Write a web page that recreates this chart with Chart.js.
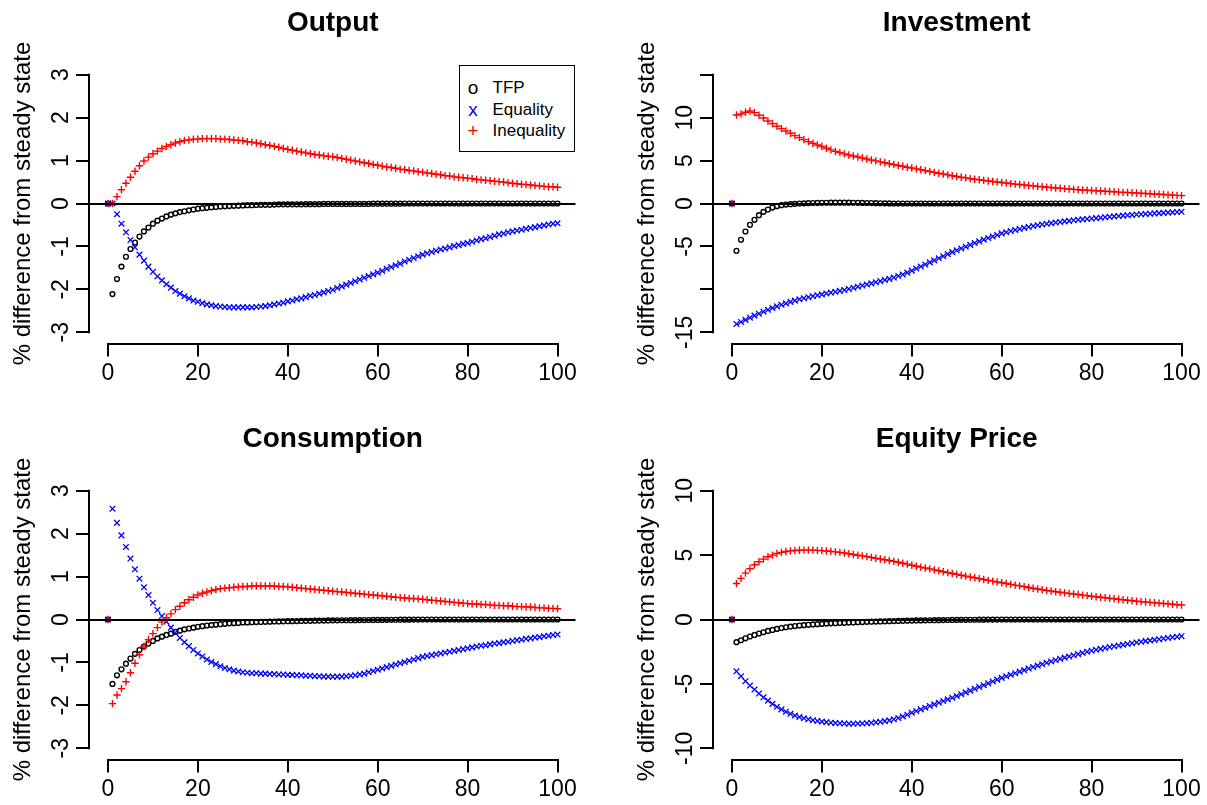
<!DOCTYPE html>
<html>
<head>
<meta charset="utf-8">
<title>Impulse responses</title>
<script src="https://cdn.jsdelivr.net/npm/chart.js@4.4.1/dist/chart.umd.min.js"></script>
<style>
  body { margin: 0; background: #fff; width: 1207px; height: 805px; overflow: hidden; position: relative;
         font-family: "Liberation Sans", Arial, sans-serif; }
  canvas { position: absolute; }
  #c-output { left: 0; top: 0; }
  #c-investment { left: 624px; top: 0; }
  #c-consumption { left: 0; top: 416px; }
  #c-equity { left: 624px; top: 416px; }
  #legend { position: absolute; left: 459px; top: 65px; width: 116px; height: 87px; box-sizing: border-box;
            border: 1.5px solid #000; background: #fff; font-size: 17px; color: #000; }
  #legend .row { position: absolute; left: 0; width: 100%; height: 22px; line-height: 22px; }
  #legend .sym { position: absolute; left: 6.5px; width: 13px; text-align: center; font-size: 19px; }
  #legend .txt { position: absolute; left: 32.5px; }
</style>
</head>
<body>
<canvas id="c-output" width="583" height="389"></canvas>
<canvas id="c-investment" width="583" height="389"></canvas>
<canvas id="c-consumption" width="583" height="389"></canvas>
<canvas id="c-equity" width="583" height="389"></canvas>
<div id="legend">
  <div class="row" style="top:10.5px"><span class="sym" style="color:#000">o</span><span class="txt">TFP</span></div>
  <div class="row" style="top:32.5px"><span class="sym" style="color:#0000ff">x</span><span class="txt">Equality</span></div>
  <div class="row" style="top:54px"><span class="sym" style="color:#ff0000">+</span><span class="txt">Inequality</span></div>
</div>
<script>
// DATA (quarters after the shock, % difference from steady state)
const periods = [0,1,2,3,4,5,6,7,8,9,10,11,12,13,14,15,16,17,18,19,20,21,22,23,24,25,26,27,28,29,30,
  31,32,33,34,35,36,37,38,39,40,41,42,43,44,45,46,47,48,49,50,51,52,53,54,55,56,57,58,59,60,
  61,62,63,64,65,66,67,68,69,70,71,72,73,74,75,76,77,78,79,80,81,82,83,84,85,86,87,88,89,90,
  91,92,93,94,95,96,97,98,99,100];
const xTicks = [0, 20, 40, 60, 80, 100];

// Output
const outputTFP = [0, -2.11, -1.76, -1.47, -1.24, -1.06, -0.91, -0.77, -0.65, -0.56,
  -0.47, -0.40, -0.35, -0.30, -0.26, -0.23, -0.20, -0.18, -0.16, -0.14,
  -0.12, -0.11, -0.10, -0.09, -0.08, -0.07, -0.065, -0.06, -0.055, -0.05,
  -0.045, -0.04, -0.04, -0.035, -0.03, -0.03, -0.03, -0.025, -0.02, -0.02,
  -0.02, -0.02, -0.02, -0.02, -0.015, -0.015, -0.015, -0.015, -0.01, -0.01,
  -0.01, -0.01, -0.01, -0.01, -0.01, -0.01, -0.01, -0.01, -0.01, -0.005,
  -0.005, -0.005, -0.005, -0.005, -0.005, -0.005, 0, 0, 0, 0,
  0, 0, 0, 0, 0, 0, 0, 0, 0, 0,
  0, 0, 0, 0, 0, 0, 0, 0, 0, 0,
  0, 0, 0, 0, 0, 0, 0, 0, 0, 0,
  0];
const outputEquality = [0, 0, -0.25, -0.47, -0.67, -0.85, -1.02, -1.19, -1.33, -1.47,
  -1.59, -1.70, -1.79, -1.88, -1.96, -2.04, -2.10, -2.16, -2.21, -2.26,
  -2.29, -2.32, -2.35, -2.37, -2.39, -2.40, -2.41, -2.42, -2.42, -2.42,
  -2.42, -2.42, -2.42, -2.41, -2.40, -2.39, -2.37, -2.35, -2.33, -2.31,
  -2.28, -2.26, -2.23, -2.21, -2.18, -2.15, -2.13, -2.10, -2.07, -2.04,
  -2.01, -1.97, -1.93, -1.89, -1.85, -1.81, -1.77, -1.73, -1.69, -1.65,
  -1.61, -1.57, -1.52, -1.48, -1.44, -1.40, -1.35, -1.31, -1.27, -1.23,
  -1.19, -1.16, -1.13, -1.10, -1.07, -1.05, -1.02, -0.99, -0.97, -0.94,
  -0.92, -0.89, -0.86, -0.83, -0.81, -0.78, -0.75, -0.72, -0.70, -0.67,
  -0.65, -0.63, -0.61, -0.59, -0.57, -0.55, -0.53, -0.51, -0.49, -0.47,
  -0.46];
const outputInequality = [0, 0, 0.16, 0.32, 0.47, 0.61, 0.75, 0.88, 0.99, 1.08,
  1.16, 1.22, 1.28, 1.33, 1.37, 1.41, 1.44, 1.47, 1.48, 1.50,
  1.50, 1.51, 1.51, 1.51, 1.51, 1.50, 1.50, 1.49, 1.48, 1.47,
  1.46, 1.44, 1.43, 1.41, 1.39, 1.37, 1.35, 1.33, 1.31, 1.28,
  1.26, 1.24, 1.22, 1.20, 1.18, 1.16, 1.14, 1.13, 1.11, 1.10,
  1.09, 1.07, 1.05, 1.03, 1.01, 0.99, 0.97, 0.95, 0.93, 0.91,
  0.89, 0.87, 0.85, 0.84, 0.82, 0.80, 0.79, 0.77, 0.76, 0.74,
  0.73, 0.71, 0.70, 0.68, 0.67, 0.65, 0.64, 0.62, 0.61, 0.60,
  0.59, 0.58, 0.56, 0.55, 0.54, 0.53, 0.52, 0.51, 0.50, 0.48,
  0.47, 0.46, 0.45, 0.44, 0.43, 0.42, 0.41, 0.40, 0.39, 0.39,
  0.38];

// Investment
const investmentTFP = [0, -5.50, -4.22, -3.26, -2.48, -1.90, -1.36, -0.97, -0.70, -0.47,
  -0.31, -0.19, -0.12, -0.08, -0.04, 0, 0.02, 0.04, 0.06, 0.07,
  0.08, 0.09, 0.10, 0.10, 0.10, 0.10, 0.10, 0.09, 0.08, 0.07,
  0.06, 0.05, 0.04, 0.03, 0.02, 0.01, 0, 0, 0, 0,
  0, 0, 0, 0, 0, 0, 0, 0, 0, 0,
  0, 0, 0, 0, 0, 0, 0, 0, 0, 0,
  0, 0, 0, 0, 0, 0, 0, 0, 0, 0,
  0, 0, 0, 0, 0, 0, 0, 0, 0, 0,
  0, 0, 0, 0, 0, 0, 0, 0, 0, 0,
  0, 0, 0, 0, 0, 0, 0, 0, 0, 0,
  0];
const investmentEquality = [0, -14.03, -13.80, -13.55, -13.30, -13.06, -12.83, -12.60, -12.38, -12.17,
  -11.98, -11.80, -11.63, -11.46, -11.31, -11.16, -11.03, -10.91, -10.80, -10.69,
  -10.58, -10.48, -10.38, -10.28, -10.18, -10.08, -9.95, -9.82, -9.69, -9.56,
  -9.43, -9.30, -9.17, -9.04, -8.91, -8.78, -8.62, -8.45, -8.27, -8.05,
  -7.82, -7.58, -7.34, -7.10, -6.86, -6.62, -6.38, -6.14, -5.90, -5.66,
  -5.45, -5.24, -5.03, -4.82, -4.61, -4.41, -4.21, -4.02, -3.84, -3.66,
  -3.48, -3.34, -3.21, -3.08, -2.96, -2.84, -2.73, -2.63, -2.53, -2.44,
  -2.36, -2.29, -2.22, -2.15, -2.08, -2.02, -1.96, -1.90, -1.85, -1.80,
  -1.75, -1.70, -1.65, -1.60, -1.55, -1.50, -1.46, -1.41, -1.37, -1.33,
  -1.29, -1.26, -1.22, -1.19, -1.15, -1.12, -1.09, -1.06, -1.03, -1.00,
  -0.97];
const investmentInequality = [0, 10.31, 10.43, 10.62, 10.78, 10.58, 10.27, 9.96, 9.61, 9.30,
  8.99, 8.72, 8.45, 8.18, 7.91, 7.67, 7.44, 7.21, 7.02, 6.82,
  6.63, 6.43, 6.24, 6.07, 5.92, 5.78, 5.65, 5.53, 5.41, 5.30,
  5.19, 5.07, 4.96, 4.85, 4.74, 4.63, 4.53, 4.43, 4.33, 4.23,
  4.13, 4.03, 3.93, 3.83, 3.73, 3.63, 3.53, 3.43, 3.33, 3.23,
  3.14, 3.06, 2.98, 2.90, 2.83, 2.76, 2.69, 2.62, 2.56, 2.50,
  2.44, 2.38, 2.32, 2.26, 2.21, 2.15, 2.10, 2.05, 2.00, 1.95,
  1.90, 1.86, 1.81, 1.77, 1.73, 1.69, 1.65, 1.61, 1.58, 1.54,
  1.51, 1.48, 1.45, 1.42, 1.39, 1.36, 1.33, 1.30, 1.28, 1.25,
  1.22, 1.19, 1.16, 1.13, 1.10, 1.07, 1.04, 1.01, 0.98, 0.95,
  0.92];

// Consumption
const consumptionTFP = [0, -1.50, -1.30, -1.16, -1.03, -0.91, -0.80, -0.71, -0.63, -0.56,
  -0.50, -0.44, -0.40, -0.36, -0.33, -0.29, -0.26, -0.23, -0.21, -0.19,
  -0.17, -0.155, -0.14, -0.13, -0.12, -0.11, -0.10, -0.09, -0.085, -0.08,
  -0.07, -0.067, -0.063, -0.06, -0.057, -0.055, -0.05, -0.047, -0.045, -0.042,
  -0.04, -0.038, -0.036, -0.034, -0.032, -0.03, -0.028, -0.026, -0.024, -0.022,
  -0.02, -0.019, -0.018, -0.017, -0.016, -0.015, -0.014, -0.013, -0.012, -0.011,
  -0.01, -0.009, -0.008, -0.007, -0.006, -0.005, -0.004, -0.003, -0.002, -0.001,
  0, 0, 0, 0, 0, 0, 0, 0, 0, 0,
  0, 0, 0, 0, 0, 0, 0, 0, 0, 0,
  0, 0, 0, 0, 0, 0, 0, 0, 0, 0,
  0];
const consumptionEquality = [0, 2.58, 2.25, 1.96, 1.69, 1.42, 1.17, 0.95, 0.75, 0.57,
  0.39, 0.22, 0.08, -0.05, -0.19, -0.31, -0.43, -0.53, -0.62, -0.71,
  -0.79, -0.86, -0.93, -0.99, -1.04, -1.09, -1.13, -1.16, -1.19, -1.21,
  -1.23, -1.24, -1.25, -1.25, -1.26, -1.26, -1.27, -1.27, -1.28, -1.28,
  -1.29, -1.29, -1.30, -1.30, -1.31, -1.31, -1.32, -1.32, -1.33, -1.33,
  -1.33, -1.33, -1.33, -1.32, -1.31, -1.30, -1.28, -1.26, -1.23, -1.20,
  -1.17, -1.14, -1.11, -1.08, -1.05, -1.02, -0.99, -0.96, -0.93, -0.90,
  -0.87, -0.85, -0.83, -0.81, -0.79, -0.77, -0.75, -0.73, -0.71, -0.69,
  -0.67, -0.65, -0.63, -0.61, -0.60, -0.58, -0.56, -0.55, -0.53, -0.52,
  -0.50, -0.48, -0.47, -0.45, -0.44, -0.42, -0.41, -0.39, -0.38, -0.36,
  -0.35];
const consumptionInequality = [0, -1.96, -1.76, -1.61, -1.45, -1.24, -1.02, -0.82, -0.63, -0.47,
  -0.33, -0.19, -0.06, 0.04, 0.13, 0.23, 0.31, 0.39, 0.46, 0.52,
  0.57, 0.61, 0.64, 0.67, 0.70, 0.72, 0.73, 0.74, 0.75, 0.76,
  0.77, 0.77, 0.78, 0.78, 0.78, 0.78, 0.78, 0.78, 0.77, 0.77,
  0.76, 0.75, 0.74, 0.73, 0.72, 0.71, 0.70, 0.69, 0.68, 0.67,
  0.66, 0.65, 0.64, 0.63, 0.62, 0.61, 0.60, 0.59, 0.58, 0.57,
  0.56, 0.55, 0.54, 0.53, 0.52, 0.51, 0.50, 0.49, 0.49, 0.48,
  0.47, 0.46, 0.45, 0.44, 0.43, 0.42, 0.41, 0.40, 0.39, 0.38,
  0.37, 0.36, 0.36, 0.35, 0.35, 0.34, 0.33, 0.33, 0.32, 0.32,
  0.31, 0.30, 0.30, 0.29, 0.29, 0.28, 0.27, 0.27, 0.26, 0.26,
  0.25];

// Equity Price
const equityTFP = [0, -1.76, -1.61, -1.46, -1.32, -1.20, -1.09, -0.99, -0.89, -0.81,
  -0.73, -0.66, -0.60, -0.55, -0.51, -0.47, -0.44, -0.41, -0.38, -0.36,
  -0.34, -0.32, -0.30, -0.29, -0.27, -0.26, -0.24, -0.23, -0.21, -0.20,
  -0.18, -0.17, -0.16, -0.15, -0.14, -0.13, -0.12, -0.11, -0.10, -0.09,
  -0.08, -0.075, -0.07, -0.065, -0.06, -0.055, -0.05, -0.045, -0.04, -0.035,
  -0.03, -0.027, -0.024, -0.021, -0.018, -0.015, -0.012, -0.009, -0.006, -0.003,
  0, 0, 0, 0, 0, 0, 0, 0, 0, 0,
  0, 0, 0, 0, 0, 0, 0, 0, 0, 0,
  0, 0, 0, 0, 0, 0, 0, 0, 0, 0,
  0, 0, 0, 0, 0, 0, 0, 0, 0, 0,
  0];
const equityEquality = [0, -4.02, -4.40, -4.79, -5.13, -5.44, -5.75, -6.04, -6.30, -6.55,
  -6.78, -6.98, -7.16, -7.32, -7.46, -7.57, -7.67, -7.75, -7.82, -7.88,
  -7.93, -7.97, -8.01, -8.04, -8.06, -8.08, -8.09, -8.09, -8.08, -8.07,
  -8.05, -8.02, -7.98, -7.94, -7.89, -7.83, -7.75, -7.65, -7.53, -7.39,
  -7.24, -7.11, -6.98, -6.85, -6.72, -6.59, -6.46, -6.33, -6.20, -6.07,
  -5.94, -5.80, -5.66, -5.52, -5.38, -5.24, -5.10, -4.96, -4.81, -4.67,
  -4.53, -4.41, -4.29, -4.17, -4.05, -3.93, -3.81, -3.69, -3.58, -3.47,
  -3.36, -3.26, -3.16, -3.06, -2.96, -2.87, -2.78, -2.69, -2.60, -2.51,
  -2.42, -2.35, -2.28, -2.21, -2.14, -2.08, -2.02, -1.96, -1.90, -1.84,
  -1.78, -1.73, -1.68, -1.63, -1.58, -1.53, -1.48, -1.43, -1.38, -1.34,
  -1.30];
const equityInequality = [0, 2.80, 3.19, 3.60, 3.94, 4.25, 4.48, 4.69, 4.87, 5.00,
  5.12, 5.21, 5.28, 5.33, 5.36, 5.38, 5.39, 5.39, 5.39, 5.37,
  5.35, 5.32, 5.29, 5.25, 5.21, 5.16, 5.11, 5.05, 4.99, 4.94,
  4.88, 4.82, 4.76, 4.70, 4.64, 4.58, 4.51, 4.44, 4.37, 4.30,
  4.21, 4.14, 4.07, 4.00, 3.93, 3.85, 3.78, 3.71, 3.64, 3.57,
  3.50, 3.43, 3.37, 3.30, 3.24, 3.17, 3.11, 3.04, 2.98, 2.91,
  2.85, 2.79, 2.73, 2.67, 2.61, 2.55, 2.49, 2.43, 2.37, 2.31,
  2.25, 2.21, 2.16, 2.12, 2.07, 2.03, 1.98, 1.94, 1.89, 1.85,
  1.81, 1.77, 1.73, 1.69, 1.65, 1.61, 1.57, 1.53, 1.49, 1.46,
  1.42, 1.39, 1.36, 1.33, 1.30, 1.27, 1.24, 1.21, 1.18, 1.15,
  1.12];

// axis ranges and ticks
const smallRange = [-3, 3];
const smallTicks = [-3, -2, -1, 0, 1, 2, 3];
const investmentRange = [-15, 15];
const investmentTicks = [-15, -10, -5, 0, 5, 10, 15];
const investmentHidden = [-10, 15]; // labels R dropped for overlap
const equityRange = [-10, 10];
const equityTicks = [-10, -5, 0, 5, 10];

const FONT = '"Liberation Sans", Arial, sans-serif';
const Y_TITLE = '% difference from steady state';

// horizontal zero line + R-style axis lines (first tick to last tick)
const rAxes = {
  id: 'rAxes',
  afterDatasetsDraw(chart) {
    const { ctx, chartArea, scales: { x, y } } = chart;
    const xt = x.ticks, yt = y.ticks;
    const zy = Math.round(y.getPixelForValue(0));
    ctx.save();
    ctx.strokeStyle = '#000';
    ctx.lineWidth = 2;
    ctx.beginPath();
    ctx.moveTo(chartArea.left, zy);
    ctx.lineTo(chartArea.right, zy);
    const bx = Math.round(chartArea.bottom) + 1;
    ctx.moveTo(x.getPixelForValue(xt[0].value) - 1, bx);
    ctx.lineTo(x.getPixelForValue(xt[xt.length - 1].value) + 1, bx);
    const lx = Math.round(chartArea.left) - 1;
    ctx.moveTo(lx, y.getPixelForValue(yt[0].value) + 1);
    ctx.lineTo(lx, y.getPixelForValue(yt[yt.length - 1].value) - 1);
    ctx.stroke();
    ctx.restore();
  }
};

function series(label, data, color, style, radius, width, order) {
  return {
    label: label,
    data: data,
    showLine: false,
    order: order,
    borderColor: color,
    backgroundColor: 'rgba(0,0,0,0)',
    pointStyle: style,
    pointRadius: radius,
    pointBorderWidth: width,
    pointBorderColor: color,
    pointBackgroundColor: 'rgba(0,0,0,0)',
  };
}

function makePanel(id, title, range, yTicks, hidden, yLabelPad, tfp, eq, ineq) {
  const span = range[1] - range[0];
  return new Chart(document.getElementById(id), {
    type: 'line',
    data: {
      labels: periods,
      datasets: [
        series('TFP', tfp, '#000000', 'circle', 2.4, 1.4, 3),
        series('Equality', eq, '#0000ff', 'crossRot', 4, 1.3, 2),
        series('Inequality', ineq, '#ff0000', 'cross', 3.7, 1.4, 1),
      ],
    },
    options: {
      responsive: false,
      animation: false,
      devicePixelRatio: 1,
      events: [],
      layout: { padding: { left: 0, right: 7.5, top: 0, bottom: 0 } },
      plugins: {
        legend: { display: false },
        tooltip: { enabled: false },
        title: {
          display: true,
          text: title,
          fullSize: false,
          color: '#000',
          font: { family: FONT, size: 28, weight: 'bold', lineHeight: 1.2 },
          padding: { top: 6, bottom: 24.8 },
        },
      },
      scales: {
        x: {
          type: 'linear',
          min: -4,
          max: 104,
          afterBuildTicks: (s) => { s.ticks = xTicks.map((v) => ({ value: v })); },
          afterFit: (s) => { s.height = 46.4; s.paddingLeft = 0; s.paddingRight = 0; },
          border: { display: false },
          grid: { drawOnChartArea: false, drawTicks: true, tickLength: 14, color: '#000', lineWidth: 2 },
          ticks: {
            color: '#000', font: { family: FONT, size: 23 }, padding: 3,
            maxRotation: 0, autoSkip: false, callback: (v) => String(v),
          },
        },
        y: {
          type: 'linear',
          min: range[0] - 0.04 * span,
          max: range[1] + 0.04 * span,
          afterBuildTicks: (s) => { s.ticks = yTicks.map((v) => ({ value: v })); },
          afterFit: (s) => { s.width = 90; s.paddingTop = 0; s.paddingBottom = 0; },
          border: { display: false },
          grid: { drawOnChartArea: false, drawTicks: true, tickLength: 14, color: '#000', lineWidth: 2 },
          title: {
            display: true, text: Y_TITLE, color: '#000',
            font: { family: FONT, size: 24 }, padding: { top: 8.6, bottom: 0 },
          },
          ticks: {
            color: '#000', font: { family: FONT, size: 23 },
            minRotation: 90, maxRotation: 90, crossAlign: 'center', padding: yLabelPad,
            autoSkip: false, callback: (v) => (hidden.includes(v) ? '' : String(v)),
          },
        },
      },
    },
    plugins: [rAxes],
  });
}

makePanel('c-output', 'Output', smallRange, smallTicks, [], 4.3,
  outputTFP, outputEquality, outputInequality);
makePanel('c-investment', 'Investment', investmentRange, investmentTicks, investmentHidden, -2.1,
  investmentTFP, investmentEquality, investmentInequality);
makePanel('c-consumption', 'Consumption', smallRange, smallTicks, [], 4.3,
  consumptionTFP, consumptionEquality, consumptionInequality);
makePanel('c-equity', 'Equity Price', equityRange, equityTicks, [], -2.1,
  equityTFP, equityEquality, equityInequality);
</script>
</body>
</html>
